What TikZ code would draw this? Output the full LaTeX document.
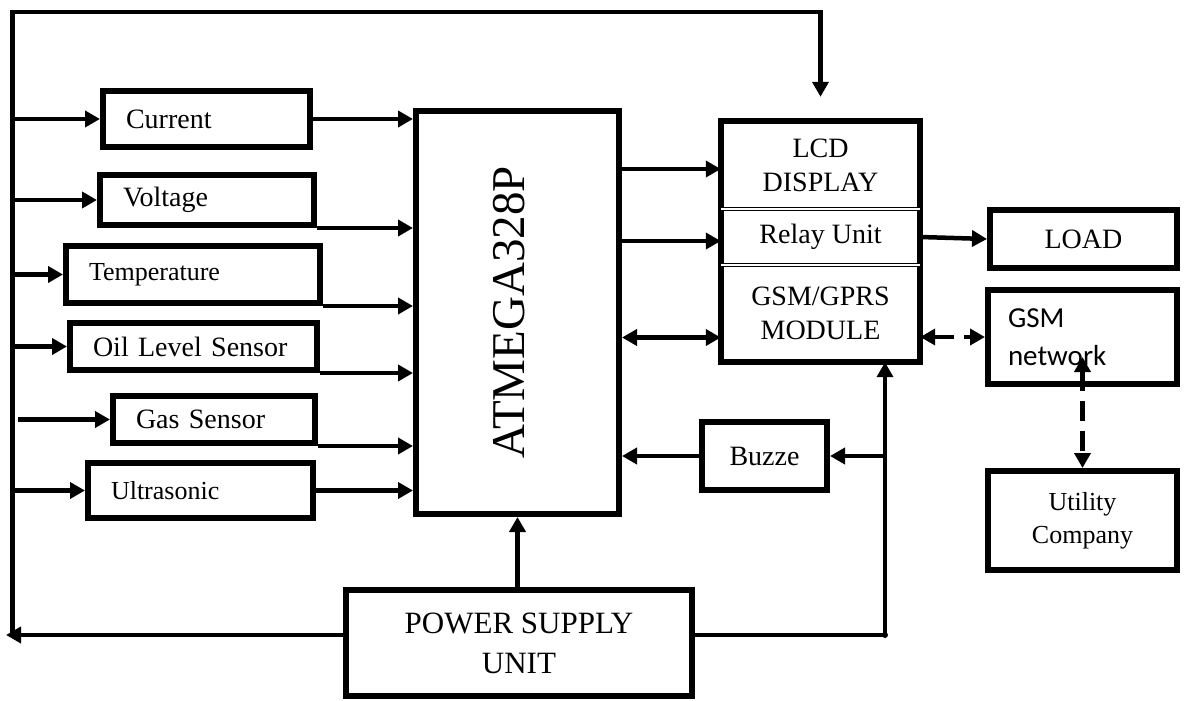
\documentclass[tikz,border=0pt]{standalone}
\usepackage{fontspec}
\setmainfont{Liberation Serif}
\newfontfamily\gsmfont{Carlito}
\usepackage{tikz}
\usetikzlibrary{arrows.meta,calc}
\newcommand{\txtsize}[2]{\fontsize{#1}{#2}\selectfont}

\begin{document}
\begin{tikzpicture}[x=1pt, y=-1pt, >={Triangle[length=15pt,width=16pt]},
    wire/.style={line width=4.5pt},
    dsh/.style={wire, dash pattern=on 20pt off 10pt},
    box/.style={draw, line width=6pt, inner sep=0pt, align=center, font=\txtsize{28}{33}},
    sensor/.style={box, align=left, inner xsep=23pt, text width=#1},
    cell/.style={minimum width=199pt, inner sep=0pt, align=center, font=\txtsize{28}{34}}]
    \useasboundingbox (0,0) rectangle (1187,701);

    % sensors
    \node[sensor=161pt, minimum height=56pt] (cur) at (206.5,119) {Current};
    \node[sensor=168pt, minimum height=50pt] (volt) at (207,200) {Voltage};
    \node[sensor=208pt, minimum height=57pt, font=\txtsize{26}{30}] (temp) at (193,274.5) {Temperature};
    \node[sensor=201pt, minimum height=47pt] (oil) at (193.5,346.5) {Oil Level Sensor};
    \node[sensor=156pt, minimum height=47pt] (gas) at (214,419.5) {Gas Sensor};
    \node[sensor=179pt, minimum height=55pt, font=\txtsize{26}{30}] (ultra) at (200.5,490.5) {Ultrasonic};

    \node[box, minimum width=203pt, minimum height=403pt] (mcu) at (517.5,312.5)
        {\rotatebox{90}{\txtsize{47}{47}ATMEGA328P}\hspace*{16pt}};

    % display, relay and modem block
    \node[cell, minimum height=88pt] (lcd) at (820.5,165) {LCD\\DISPLAY};
    \node[cell, minimum height=56pt] (relay) at (820.5,237) {Relay Unit};
    \node[cell, minimum height=97pt] (gsm) at (820.5,313.5) {GSM/GPRS\\MODULE};
    \draw[line width=6pt] (lcd.north west) rectangle (gsm.south east);
    \draw[double, line width=1.2pt, double distance=2pt] (lcd.south west) -- (lcd.south east);
    \draw[double, line width=1.2pt, double distance=2pt] (relay.south west) -- (relay.south east);

    \node[box, minimum width=187pt, minimum height=58pt] (load) at (1083.5,239) {LOAD};
    \node[box, align=left, text width=149pt, inner xsep=20pt, minimum height=94pt,
        font=\gsmfont\txtsize{29}{38}] (net) at (1082.5,337) {GSM\\network};
    \node[box, minimum width=189pt, minimum height=99pt, font=\txtsize{26}{33}] (util) at (1082.5,520.5) {Utility\\Company};
    \node[box, minimum width=125pt, minimum height=68pt] (buzz) at (764.5,456) {Buzze};
    \node[box, minimum width=346pt, minimum height=106pt, font=\txtsize{31}{40}] (psu) at (519,643) {POWER SUPPLY\\UNIT};

    \coordinate (tl) at (12.5,12);
    \coordinate (bl) at (12.5,637);
    \coordinate (busend) at (6,635);
    \coordinate (gasin) at (18,422);
    \coordinate (jn) at (885,635);
    \coordinate (lcdtop) at ([yshift=24pt]lcd.north);
    \coordinate (lcdin) at ([yshift=-4pt]lcd.west);
    \coordinate (relin) at ([yshift=-4pt]relay.west);
    \coordinate (gsmio) at ([yshift=-24pt]gsm.west);

    % supply bus
    \draw[wire,->] (bl) -- (tl) -| (lcdtop);
    \draw[wire,->] (psu.west |- busend) -- (busend);
    \draw[wire] (psu.east |- jn) -- (jn);
    \fill (jn) circle (3pt);
    \draw[wire,->] (jn) -- (jn |- gsm.south);
    \draw[wire,->] (jn |- buzz.east) -- (buzz.east);
    \draw[wire,->] (mcu.south |- psu.north) -- (mcu.south);

    \foreach \s in {cur,volt,temp,oil,ultra}
        \draw[wire,->] (\s.west -| tl) -- (\s.west);
    \draw[wire,->] (gas.west -| gasin) -- (gas.west);

    % sensor outputs
    \draw[wire,->] (cur.east) -- (cur.east -| mcu.west);
    \foreach \s in {volt,temp,oil,gas}
        \draw[wire,->] (\s.south east) -- (\s.south east -| mcu.west);
    \draw[wire,->] (ultra.east) -- (ultra.east -| mcu.west);

    % controller outputs
    \draw[wire,->] (lcdin -| mcu.east) -- (lcdin);
    \draw[wire,->] (relin -| mcu.east) -- (relin);
    \draw[wire,<->] (gsmio -| mcu.east) -- (gsmio);
    \draw[wire,->] (buzz.west) -- (buzz.west -| mcu.east);
    \draw[wire,->] (relay.east) -- (load.west);
    \draw[dsh,<->] (gsm.east |- net.west) -- (net.west);
    \draw[dsh,<->] ([yshift=30pt]net.south) -- (util.north);
\end{tikzpicture}
\end{document}
